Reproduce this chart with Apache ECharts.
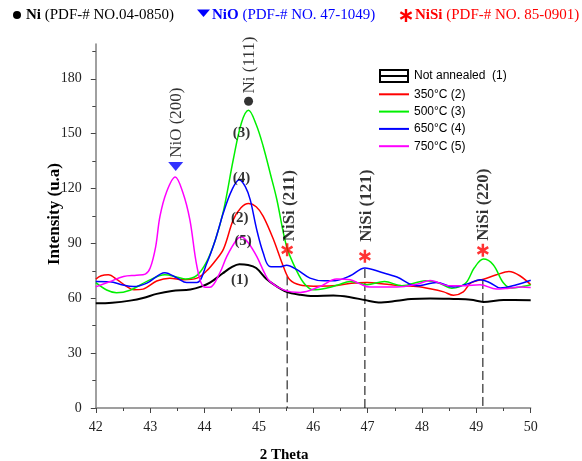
<!DOCTYPE html>
<html>
<head>
<meta charset="utf-8">
<script src="https://cdn.jsdelivr.net/npm/echarts@6/dist/echarts.min.js"></script>
<style>
  html, body { margin: 0; padding: 0; background: #fff; }
  #chart { width: 582px; height: 461px; }
</style>
</head>
<body>
<div id="chart"></div>
<script>
// XRD patterns of Ni film, not annealed and annealed at 350-750 °C

const SERIF = '"Liberation Serif", "Times New Roman", serif';
const SANS = '"Liberation Sans", Arial, sans-serif';

const seriesNames = ['Not annealed  (1)', '350°C (2)', '500°C (3)', '650°C (4)', '750°C (5)'];
const seriesColors = ['#000000', '#ff0000', '#00f000', '#0000ff', '#ff00ff'];

// [2theta, intensity]
const notAnnealed = [
  [42.0, 57.2], [42.3, 57.6], [42.63, 58.7], [42.87, 60.1], [43.12, 62.4], [43.4, 64.0], [43.74, 64.8],
  [43.95, 66.5], [44.1, 68.5], [44.33, 73.5], [44.5, 77], [44.64, 78.6], [44.8, 78.2], [44.95, 76.5],
  [45.14, 70.5], [45.3, 67], [45.51, 63.5], [45.76, 61.9], [46.0, 61.2], [46.37, 61.5], [46.68, 60.6],
  [46.95, 59], [47.2, 57.7], [47.54, 58.6], [47.8, 59.6], [48.15, 59.9], [48.58, 59.6], [48.9, 59.2],
  [49.13, 58.0], [49.5, 59], [50, 58.9]
];
const anneal350 = [
  [42.0, 70.5], [42.1, 72.3], [42.23, 72.8], [42.4, 70], [42.55, 66.8], [42.7, 64.6], [42.87, 65.0],
  [43.12, 69.4], [43.36, 71], [43.61, 70.1], [43.86, 71], [44.04, 75], [44.2, 80.5], [44.35, 87],
  [44.53, 103], [44.67, 109.5], [44.81, 111.8], [44.95, 110], [45.08, 104.8], [45.27, 92], [45.45, 77.4],
  [45.57, 70.1], [45.76, 67.2], [46.0, 66.6], [46.36, 66.8], [46.7, 68.2], [46.99, 68.6], [47.3, 67.8],
  [47.63, 66.8], [47.9, 66.4], [48.15, 65.2], [48.4, 63.5], [48.58, 61.6], [48.76, 63.5], [48.9, 68.4],
  [49.13, 70.4], [49.37, 72.8], [49.6, 74.6], [49.8, 72.3], [50, 67.4]
];
const anneal500 = [
  [42.0, 68.5], [42.2, 64.5], [42.38, 63.0], [42.63, 64.4], [42.94, 69.2], [43.27, 72.8], [43.5, 71.5],
  [43.65, 70.5], [43.86, 72.5], [44.04, 80], [44.2, 92], [44.35, 108], [44.53, 136], [44.68, 156],
  [44.81, 162.8], [44.95, 155], [45.08, 143], [45.22, 127], [45.33, 114], [45.51, 88.3], [45.7, 74.7],
  [45.85, 67.5], [46.0, 64.6], [46.25, 65.6], [46.45, 67.2], [46.68, 69.2], [46.99, 67.4], [47.31, 69.2],
  [47.63, 66.8], [48.07, 69.6], [48.3, 68.5], [48.55, 65.5], [48.8, 68.2], [48.96, 76.5], [49.13, 81.4],
  [49.31, 78.3], [49.5, 68.3], [49.65, 65.6], [49.85, 66.4], [50, 67.4]
];
const anneal650 = [
  [42.0, 69.2], [42.26, 69.0], [42.5, 67.2], [42.69, 66.4], [42.94, 68.3], [43.27, 74.0], [43.5, 71],
  [43.67, 68.6], [43.86, 68.6], [44.04, 79], [44.2, 92], [44.35, 107], [44.5, 119], [44.64, 124.8],
  [44.75, 121], [44.84, 113.9], [44.96, 97.5], [45.08, 84.7], [45.2, 77.4], [45.39, 77.2], [45.51, 78.1],
  [45.7, 75.6], [45.94, 71], [46.2, 69.5], [46.4, 69.6], [46.68, 72.3], [46.95, 76.6], [47.25, 74.2],
  [47.54, 71.6], [47.9, 66.8], [48.27, 68.6], [48.58, 66.1], [48.85, 68], [49.07, 70.1], [49.25, 68.5],
  [49.44, 65.6], [49.74, 67.4], [50, 69.8]
];
const anneal750 = [
  [42.0, 66.2], [42.25, 69], [42.51, 71.9], [42.75, 72.6], [42.91, 73.2], [43.0, 76.5], [43.1, 88],
  [43.18, 104.8], [43.3, 118], [43.46, 126.3], [43.6, 118], [43.73, 103], [43.86, 77.4], [43.98, 66.4],
  [44.1, 66.0], [44.28, 73.8], [44.41, 82.9], [44.59, 92], [44.68, 93.5], [44.8, 90.5], [44.96, 82.9],
  [45.1, 74], [45.2, 69.2], [45.45, 64.6], [45.76, 63.2], [46.12, 66.4], [46.43, 70.5], [46.68, 70.1],
  [46.85, 68], [47.04, 66.1], [47.54, 66.1], [47.9, 67.6], [48.15, 69.7], [48.51, 66.8], [48.8, 66.9],
  [49.07, 67.4], [49.37, 65], [49.6, 65.5], [49.8, 66.1], [50, 65.9]
];

// reflections
const niPeak = [44.81, 167.7];
const nioPeak = [43.47, 132];
const nisiX = [45.52, 46.95, 49.12];
const nisiStarY = [86.5, 82.9, 86.2];
const nisiDropTop = [72, 76, 70];
const nisiLabels = ['NiSi (211)', 'NiSi (121)', 'NiSi (220)'];
const nisiLabelX = [45.57, 46.99, 49.14];
const nisiLabelY = [110.6, 110.6, 111.2];

const phaseLabels = ['Ni (111)', 'NiO (200)'];
const phaseLabelPts = [[44.83, 187.5], [43.49, 156]];

const sampleTags = ['(1)', '(2)', '(3)', '(4)', '(5)'];
const sampleTagPts = [[44.65, 70.1], [44.65, 103.9], [44.68, 150.4], [44.68, 125.8], [44.71, 91.1]];

const yMajorTicks = [0, 30, 60, 90, 120, 150, 180];
const yMinorTicks = [15, 45, 75, 105, 135, 165, 195];

const STAR = 'path://M-1.2,-6L1.2,-6L1.2,6L-1.2,6Z' +
  'M4.596,-4.039L5.796,-1.961L-4.596,4.039L-5.796,1.961Z' +
  'M5.796,1.961L4.596,4.039L-5.796,-1.961L-4.596,-4.039Z';
const BOX_ICON = 'path://M0,0L30,0L30,14L0,14Z M2,2L2,6L28,6L28,2Z M2,8L2,12L28,12L28,8Z';

const chart = echarts.init(document.getElementById('chart'), null, { renderer: 'canvas' });

function curve(i, data) {
  return {
    name: seriesNames[i], type: 'line', data, smooth: 0.35,
    symbol: 'none', showSymbol: false, z: 3,
    lineStyle: { color: seriesColors[i], width: i === 0 ? 2 : 1.5 },
    itemStyle: { color: seriesColors[i] },
  };
}

function textMarks(pts, texts, opts) {
  return {
    type: 'scatter', silent: true, z: 6,
    symbol: 'circle', symbolSize: 1, itemStyle: { color: 'transparent' },
    data: pts,
    label: Object.assign({
      show: true, position: 'inside', color: '#000', fontFamily: SERIF,
      formatter: p => texts[p.dataIndex],
    }, opts),
  };
}

// little red asterisk for the header, three crossed bars
function headerStar(cx, cy) {
  return [0, Math.PI / 3, -Math.PI / 3].map(r => ({
    type: 'rect', x: cx, y: cy, rotation: r,
    shape: { x: -1.2, y: -6.5, width: 2.4, height: 13 },
    style: { fill: '#ff0000' },
  }));
}

function headerText(x, bold, rest, color) {
  return {
    type: 'text', x, y: 15,
    style: {
      text: '{b|' + bold + '}{n|' + rest + '}', verticalAlign: 'middle', fill: color,
      rich: {
        b: { fontFamily: SERIF, fontSize: 15, fontWeight: 'bold', fill: color },
        n: { fontFamily: SERIF, fontSize: 15, fill: color },
      },
    },
  };
}

const dropLines = nisiX.map((x, i) => ({
  type: 'line', silent: true, z: 1, symbol: 'none',
  data: [[x, nisiDropTop[i]], [x, 0]],
  lineStyle: { color: '#000', width: 1, type: [9, 4] },
}));

const axisText = { fontFamily: SERIF, fontSize: 14, color: '#222' };
const plainLegend = name => ({ name, itemStyle: { opacity: 0 } });

chart.setOption({
  backgroundColor: '#fff',
  animation: false,
  grid: { left: 95.8, right: 51.3, top: 44, bottom: 53 },
  legend: {
    orient: 'vertical', left: 373, top: 64,
    itemWidth: 30, itemHeight: 14, itemGap: 5.3,
    textStyle: { fontFamily: SANS, fontSize: 12, color: '#000' },
    data: [
      { name: seriesNames[0], icon: BOX_ICON, itemStyle: { color: '#000', borderWidth: 0 } },
      plainLegend(seriesNames[1]), plainLegend(seriesNames[2]),
      plainLegend(seriesNames[3]), plainLegend(seriesNames[4]),
    ],
  },
  xAxis: {
    type: 'value', min: 42, max: 50, interval: 1,
    axisLine: { show: true, lineStyle: { color: '#808080', width: 1.5 } },
    axisTick: { show: true, length: 5, lineStyle: { color: '#444' } },
    minorTick: { show: true, splitNumber: 2, length: 3, lineStyle: { color: '#444' } },
    splitLine: { show: false },
    axisLabel: Object.assign({ margin: 12 }, axisText),
  },
  yAxis: [
    {
      type: 'value', min: 0, max: 199, interval: 30,
      axisLine: { show: true, lineStyle: { color: '#808080', width: 1.5 } },
      axisTick: { show: true, length: 5, customValues: yMajorTicks, lineStyle: { color: '#444' } },
      splitLine: { show: false },
      axisLabel: Object.assign({ margin: 14, customValues: yMajorTicks }, axisText),
    },
    {
      type: 'value', min: 0, max: 199, position: 'left',
      axisLine: { show: false },
      axisTick: { show: true, length: 3.5, customValues: yMinorTicks, lineStyle: { color: '#444' } },
      splitLine: { show: false },
      axisLabel: { show: false },
    },
  ],
  graphic: [
    { type: 'circle', shape: { cx: 17, cy: 15, r: 4 }, style: { fill: '#000' } },
    headerText(26, 'Ni', ' (PDF-# NO.04-0850)', '#000'),
    { type: 'polygon', shape: { points: [[197, 9.5], [210, 9.5], [203.5, 17]] }, style: { fill: '#0000ff' } },
    headerText(212, 'NiO', ' (PDF-# NO. 47-1049)', '#0000ff'),
    ...headerStar(406, 15.5),
    headerText(415, 'NiSi', ' (PDF-# NO. 85-0901)', '#ff0000'),
    {
      type: 'text', x: 55, y: 214, rotation: Math.PI / 2,
      style: {
        text: 'Intensity (u.a)', align: 'center', verticalAlign: 'middle', fill: '#000',
        fontFamily: SERIF, fontSize: 17, fontWeight: 'bold',
      },
    },
    {
      type: 'text', x: 284, y: 455,
      style: {
        text: '2 Theta', align: 'center', verticalAlign: 'middle', fill: '#000',
        fontFamily: SERIF, fontSize: 15, fontWeight: 'bold',
      },
    },
  ],
  series: [
    ...dropLines,
    curve(0, notAnnealed),
    curve(1, anneal350),
    curve(2, anneal500),
    curve(3, anneal650),
    curve(4, anneal750),
    {
      type: 'scatter', silent: true, z: 5, symbol: 'circle', symbolSize: 9,
      itemStyle: { color: '#000' }, data: [niPeak],
    },
    {
      type: 'scatter', silent: true, z: 5, symbol: 'triangle', symbolRotate: 180, symbolSize: [15, 9],
      itemStyle: { color: '#0000ff' }, data: [nioPeak],
    },
    {
      type: 'scatter', silent: true, z: 5, symbol: STAR, symbolSize: [12, 13],
      itemStyle: { color: '#ff0000' }, data: nisiX.map((x, i) => [x, nisiStarY[i]]),
    },
    textMarks(phaseLabelPts, phaseLabels, { rotate: 90, fontSize: 17 }),
    textMarks(nisiX.map((x, i) => [nisiLabelX[i], nisiLabelY[i]]), nisiLabels,
      { rotate: 90, fontSize: 17, fontWeight: 'bold' }),
    textMarks(sampleTagPts, sampleTags, { fontSize: 15, fontWeight: 'bold' }),
  ],
});
</script>
</body>
</html>
